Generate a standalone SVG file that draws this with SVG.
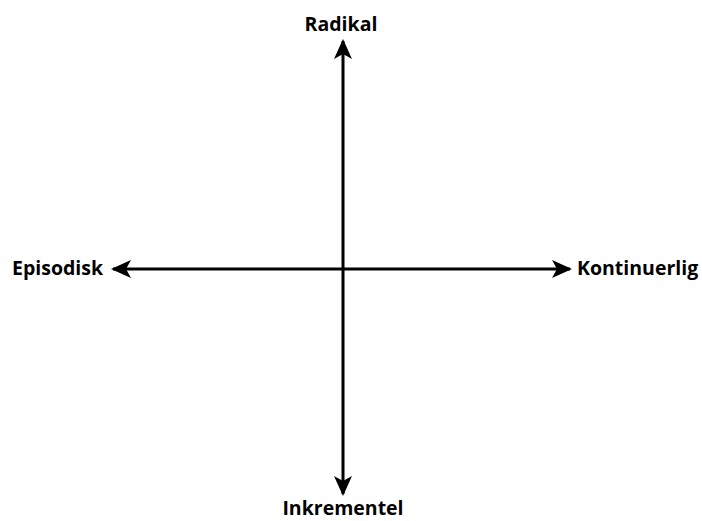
<svg xmlns="http://www.w3.org/2000/svg" width="702" height="521" viewBox="0 0 702 521">
<defs>
<marker id="ah" viewBox="0 0 20 20" refX="18" refY="10" markerWidth="20" markerHeight="20" markerUnits="userSpaceOnUse" orient="auto-start-reverse">
<path d="M0,1 L20,10 L0,19 L5,10 Z" fill="#000"/>
</marker>
<style>
.lbl{font-family:"Open Sans","Noto Sans",sans-serif;font-weight:bold;font-size:19.5px;fill:#000}
.ax{stroke:#000;stroke-width:3;fill:none}
</style>
</defs>
<rect width="702" height="521" fill="#fff"/>
<g id="connectors">
<line class="ax" x1="343" y1="494" x2="343" y2="41" marker-start="url(#ah)" marker-end="url(#ah)"/>
<line class="ax" x1="113" y1="269" x2="570" y2="269" marker-start="url(#ah)" marker-end="url(#ah)"/>
</g>
<g id="radikal"><text class="lbl" x="341" y="31" text-anchor="middle">Radikal</text></g>
<g id="inkrementel"><text class="lbl" x="343" y="515" text-anchor="middle">Inkrementel</text></g>
<g id="episodisk"><text class="lbl" x="12" y="275">Episodisk</text></g>
<g id="kontinuerlig"><text class="lbl" x="577" y="275">Kontinuerlig</text></g>
</svg>
